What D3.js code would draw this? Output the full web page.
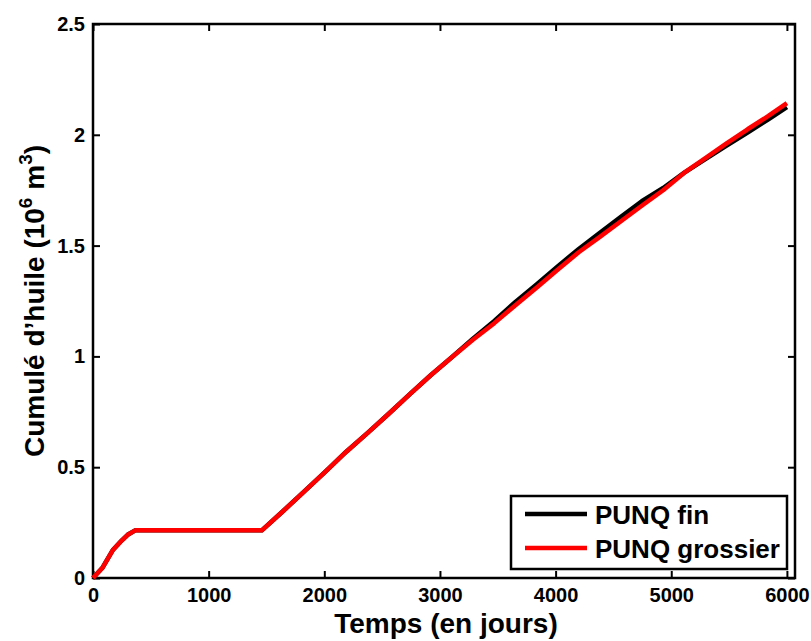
<!DOCTYPE html>
<html>
<head>
<meta charset="utf-8">
<script src="https://cdn.jsdelivr.net/npm/d3@7"></script>
<style>
  body { margin: 0; background: #fff; }
  text { font-family: 'Liberation Sans', Arial, sans-serif; font-weight: bold; }
</style>
</head>
<body>
<div class="chart"></div>
<script>

const daysFin = [0, 80, 170, 250, 300, 365, 730, 1095, 1460, 1640, 1825, 2010, 2190, 2375, 2555,
                 2740, 2920, 3100, 3285, 3470, 3650, 3835, 4015, 4200, 4380, 4565, 4745, 4930,
                 5110, 5295, 5475, 5660, 5840, 6000];
const oilFin = [0, 0.045, 0.125, 0.17, 0.195, 0.215, 0.215, 0.215, 0.215, 0.30, 0.39, 0.48, 0.57,
                0.655, 0.74, 0.83, 0.915, 0.995, 1.08, 1.16, 1.245, 1.325, 1.405, 1.485, 1.557,
                1.63, 1.70, 1.76, 1.828, 1.89, 1.95, 2.01, 2.07, 2.125];

const daysGros = daysFin;
const oilGros = [0, 0.045, 0.125, 0.17, 0.195, 0.215, 0.215, 0.215, 0.215, 0.30, 0.39, 0.48, 0.57,
                 0.655, 0.74, 0.83, 0.915, 0.995, 1.075, 1.15, 1.23, 1.31, 1.39, 1.47, 1.538,
                 1.61, 1.68, 1.75, 1.828, 1.895, 1.96, 2.025, 2.085, 2.143];

const seriesNames = ['PUNQ fin', 'PUNQ grossier'];
const seriesColors = ['#000000', '#ff0000'];

const xTicks = [0, 1000, 2000, 3000, 4000, 5000, 6000];
const yTicks = [0, 0.5, 1, 1.5, 2, 2.5];
const yTickLabels = ['0', '0.5', '1', '1.5', '2', '2.5'];

/** Set up canvas */
let width = 811, height = 641;
let mLeft = 93, mRight = 795, mTop = 24, mBottom = 578;

let svg = d3.select('.chart').append('svg')
    .attr('width', width)
    .attr('height', height);

let xScale = d3.scaleLinear().domain([0, 6070]).range([mLeft, mRight]);
let yScale = d3.scaleLinear().domain([0, 2.5]).range([mBottom, mTop]);

/** Axes, matlab style : ticks inside, on all four sides */
function styleAxis (g) {
    g.attr('font-family', null);
    g.select('.domain').remove();
    g.selectAll('line').attr('stroke', '#000').attr('stroke-width', 2);
    g.selectAll('text')
     .style('font-size', '20px')
     .style('font-weight', 'bold')
     .attr('fill', '#000');
}

svg.append('g')
   .attr('transform', `translate(0, ${mBottom})`)
   .call(d3.axisBottom(xScale).tickValues(xTicks).tickFormat(d3.format('d'))
          .tickSizeInner(-7).tickSizeOuter(0).tickPadding(10))
   .call(styleAxis);

svg.append('g')
   .attr('transform', `translate(0, ${mTop})`)
   .call(d3.axisTop(xScale).tickValues(xTicks).tickFormat('')
          .tickSizeInner(-7).tickSizeOuter(0))
   .call(styleAxis);

svg.append('g')
   .attr('transform', `translate(${mLeft}, 0)`)
   .call(d3.axisLeft(yScale).tickValues(yTicks).tickFormat((d, i) => yTickLabels[i])
          .tickSizeInner(-7).tickSizeOuter(0).tickPadding(8))
   .call(styleAxis);

svg.append('g')
   .attr('transform', `translate(${mRight}, 0)`)
   .call(d3.axisRight(yScale).tickValues(yTicks).tickFormat('')
          .tickSizeInner(-7).tickSizeOuter(0))
   .call(styleAxis);

/** the box */
svg.append('rect')
   .attr('x', mLeft)
   .attr('y', mTop)
   .attr('width', mRight - mLeft)
   .attr('height', mBottom - mTop)
   .attr('fill', 'none')
   .attr('stroke', '#000')
   .attr('stroke-width', 2.5);

/** curves */
let lineGen = d3.line()
    .x((d) => xScale(d[0]))
    .y((d) => yScale(d[1]));

let series = [d3.zip(daysFin, oilFin), d3.zip(daysGros, oilGros)];

svg.selectAll('.curve')
   .data(series)
   .enter()
   .append('path')
   .attr('class', 'curve')
   .attr('d', lineGen)
   .attr('fill', 'none')
   .attr('stroke', (d, i) => seriesColors[i])
   .attr('stroke-width', 4.5)
   .attr('stroke-linejoin', 'round');

/** axis titles */
svg.append('text')
   .attr('x', (mLeft + mRight) / 2 + 2)
   .attr('y', 633)
   .attr('text-anchor', 'middle')
   .style('font-size', '28px')
   .text('Temps (en jours)');

let yTitle = svg.append('text')
   .attr('transform', `translate(44, ${(mTop + mBottom) / 2}) rotate(-90)`)
   .attr('text-anchor', 'middle')
   .style('font-size', '28px');
yTitle.append('tspan').text('Cumulé d’huile (10');
yTitle.append('tspan').attr('dy', -12).style('font-size', '19px').text('6');
yTitle.append('tspan').attr('dy', 12).text(' m');
yTitle.append('tspan').attr('dy', -12).style('font-size', '19px').text('3');
yTitle.append('tspan').attr('dy', 12).text(')');

/** legend */
let legend = svg.append('g');
legend.append('rect')
      .attr('x', 511)
      .attr('y', 496)
      .attr('width', 276)
      .attr('height', 73)
      .attr('fill', '#fff')
      .attr('stroke', '#000')
      .attr('stroke-width', 2.5);

let items = legend.selectAll('.item')
      .data(seriesNames)
      .enter()
      .append('g')
      .attr('class', 'item')
      .attr('transform', (d, i) => `translate(0, ${514 + i * 34})`);

items.append('line')
     .attr('x1', 525)
     .attr('x2', 587)
     .attr('stroke', (d, i) => seriesColors[i])
     .attr('stroke-width', 4.5);

items.append('text')
     .attr('x', 595)
     .attr('y', 10)
     .style('font-size', '26px')
     .text((d) => d);

</script>
</body>
</html>
